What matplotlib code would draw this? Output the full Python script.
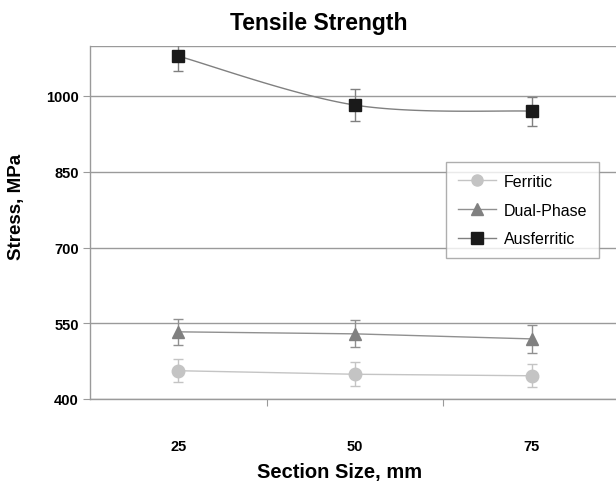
import numpy as np
import matplotlib
matplotlib.use("Agg")
import matplotlib.pyplot as plt
from matplotlib import font_manager

sizes = ["25", "50", "75"]
ferritic = [456, 449, 446]
ferritic_err = [23, 24, 23]
dual = [533, 529, 519]
dual_err = [26, 27, 27]
ausferritic = [1079, 982, 970]
ausferritic_err = [30, 31, 29]
yticks = [400, 550, 700, 850, 1000]

avail = {f.name for f in font_manager.fontManager.ttflist}
narrow = "Liberation Sans Narrow" if "Liberation Sans Narrow" in avail else "Liberation Sans"
wide = "Liberation Sans"

fig = plt.figure(figsize=(6.16, 4.89), dpi=100)
ax = fig.add_axes([90/616, 89/489, 530/616, (400-46.5)/489])

x = np.arange(len(sizes))


def smooth(xs, ys, n=40):
    xs = np.asarray(xs, float); ys = np.asarray(ys, float)
    px = np.concatenate([[xs[0]], xs, [xs[-1]]])
    py = np.concatenate([[ys[0]], ys, [ys[-1]]])
    outx, outy = [], []
    for i in range(1, len(px) - 2):
        p0 = np.array([px[i], py[i]]); p3 = np.array([px[i+1], py[i+1]])
        c1 = p0 + (np.array([px[i+1], py[i+1]]) - np.array([px[i-1], py[i-1]])) / 6
        c2 = p3 - (np.array([px[i+2], py[i+2]]) - np.array([px[i], py[i]])) / 6
        t = np.linspace(0, 1, n)[:, None]
        b = (1-t)**3*p0 + 3*(1-t)**2*t*c1 + 3*(1-t)*t**2*c2 + t**3*p3
        outx.extend(b[:, 0]); outy.extend(b[:, 1])
    return outx, outy

series = [
    ("Ferritic", ferritic, ferritic_err, "o", "#c4c4c4", "#c4c4c4", False),
    ("Dual-Phase", dual, dual_err, "^", "#808080", "#909090", False),
    ("Ausferritic", ausferritic, ausferritic_err, "s", "#1a1a1a", "#808080", True),
]
handles = []
for name, vals, err, mk, mc, lc, sm in series:
    ax.errorbar(x, vals, yerr=err, fmt="none", ecolor=lc, elinewidth=1.0,
                capsize=3.5, capthick=1.0, zorder=3)
    if sm:
        sx, sy = smooth(x, vals)
        ax.plot(sx, sy, color=lc, lw=1.0, zorder=3)
    else:
        ax.plot(x, vals, color=lc, lw=1.0, zorder=3)
    ax.plot(x, vals, ls="none", marker=mk, ms=9, color=mc, mec=mc, zorder=4)
    h, = ax.plot([], [], color=lc, lw=1.0, marker=mk, ms=8, mfc=mc, mec=mc)
    handles.append((h, name))

ax.set_xlim(-0.5, 2.5)
ax.set_ylim(400, 1100)
ax.set_yticks(yticks)
ax.set_yticks([1100], minor=True)
ax.yaxis.grid(True, which="both", color="#9a9a9a", lw=1.0)
ax.set_axisbelow(True)
ax.tick_params(axis="y", which="minor", length=0)
ax.tick_params(axis="y", which="major", length=5, color="#9a9a9a", pad=3)
for lbl in ax.get_yticklabels():
    lbl.set_fontfamily(narrow); lbl.set_fontweight("bold"); lbl.set_fontsize(10.5)

ax.set_xticks([0.5, 1.5])
ax.set_xticklabels([])
ax.tick_params(axis="x", which="major", length=5, color="#9a9a9a", direction="out")
ax.set_xticks(x, minor=True)
ax.set_xticklabels(sizes, minor=True, fontfamily=narrow, fontweight="bold", fontsize=10.5)
ax.tick_params(axis="x", which="minor", length=0, pad=29)

for s in ["top", "right"]:
    ax.spines[s].set_visible(False)
for s in ["left", "bottom"]:
    ax.spines[s].set_color("#9a9a9a")
    ax.spines[s].set_linewidth(1.0)

ax.set_title("Tensile Strength", fontfamily=narrow, fontweight="bold", fontsize=16.5, pad=12, x=(319-90)/530)
ax.set_xlabel("Section Size, mm", fontfamily=narrow, fontweight="bold", fontsize=14.5)
ax.xaxis.set_label_coords((340-90)/530, -(473-400)/353.5)
ax.xaxis.label.set_va("center")
ax.set_ylabel("Stress, MPa", fontfamily=wide, fontweight="bold", fontsize=13.5)
ax.yaxis.set_label_coords(-(90-17)/530, (400-207)/353.5)
ax.yaxis.label.set_va("center")

leg = ax.legend([h for h, _ in handles], [n for _, n in handles],
                loc="upper left", bbox_to_anchor=((446-90)/530, (400-163)/353.5),
                prop={"family": narrow, "size": 11.5}, frameon=True, fancybox=False,
                edgecolor="#9a9a9a", handlelength=2.4, labelspacing=0.85,
                borderpad=0.75, handletextpad=0.45, borderaxespad=0)
leg.get_frame().set_linewidth(1.0)

fig.savefig("out.png", dpi=100)
